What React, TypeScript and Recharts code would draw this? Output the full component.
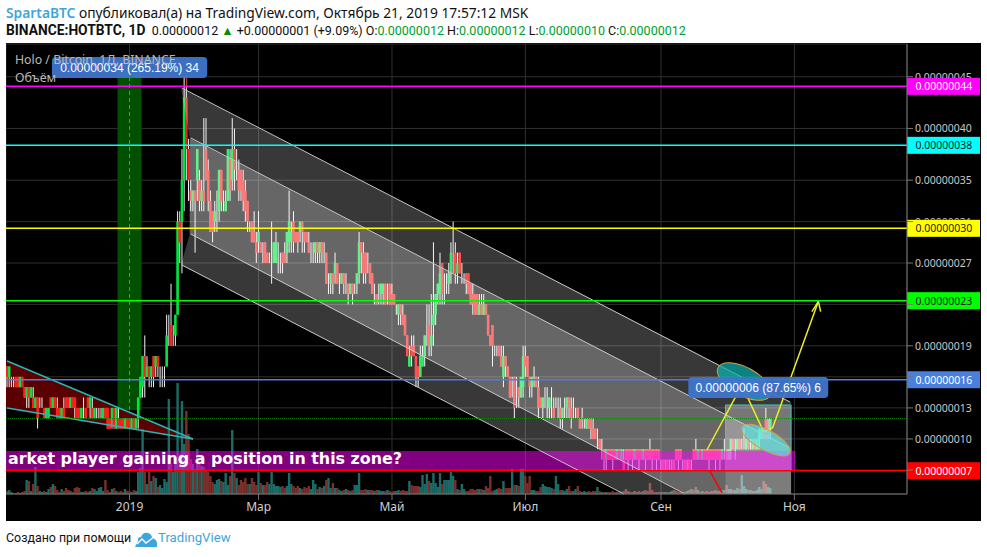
import { Bar, CartesianGrid, ComposedChart, ReferenceArea, ReferenceLine, XAxis, YAxis } from "recharts";

// prices are in satoshi (1e-8 BTC), day 0 is 1 Jan 2019
const firstDay = -56;
const lastSlot = 355;

const opens = [
  17, 16, 16, 16, 16, 16, 15, 16, 15, 14, 15, 14, 14, 13, 14, 13, 14, 13, 12, 12,
  14, 13, 14, 13, 13, 12, 13, 14, 14, 13, 14, 14, 13, 13, 12, 13, 13, 14, 13, 13,
  12, 13, 13, 13, 12, 13, 13, 12, 12, 13, 11, 12, 12, 12, 11, 12,
  12, 11, 12, 11, 12, 14, 15, 18, 16, 17, 16, 18, 17, 18, 17, 17, 17, 17, 20, 21,
  20, 20, 22, 31, 31, 35, 43, 38, 34, 33, 34, 35, 35, 33, 34, 38, 36, 33, 32, 31,
  32, 32, 36, 33, 32, 33, 37, 35, 38, 36, 36, 36, 35, 34, 33, 30, 31, 30, 29, 29,
  29, 28, 29, 28, 27, 28, 27, 27, 28, 27, 28, 28, 28, 29, 29, 31, 30, 30, 30, 31,
  30, 30, 29, 28, 28, 28, 29, 28, 29, 28, 28, 25, 25, 26, 26, 27, 25, 25, 26, 25,
  25, 24, 25, 24, 25, 26, 29, 28, 28, 27, 27, 26, 24, 24, 24, 24, 24, 25, 24, 25,
  24, 24, 23, 22, 23, 22, 22, 20, 17, 19, 19, 18, 17, 16, 17, 18, 20, 21, 19, 21,
  22, 24, 24, 27, 25, 25, 25, 26, 28, 28, 26, 28, 26, 26, 26, 26, 25, 24, 24, 24,
  22, 23, 22, 23, 22, 20, 21, 19, 19, 19, 18, 16, 18, 17, 16, 15, 16, 14, 15, 14,
  15, 18, 18, 16, 15, 16, 16, 15, 14, 13, 14, 14, 13, 14, 13, 13, 13, 13, 12, 13,
  13, 14, 13, 13, 13, 13, 12, 12, 12, 11, 12, 12, 11, 11, 10, 10, 9, 9, 8, 9,
  9, 9, 9, 8, 9, 8, 8, 9, 9, 9, 9, 8, 9, 9, 9, 8, 9, 9, 9, 9,
  9, 9, 9, 8, 8, 8, 8, 8, 8, 8, 9, 9, 9, 8, 8, 8, 8, 8, 9, 9,
  8, 9, 8, 9, 9, 9, 9, 9, 9, 9, 9, 8, 9, 9, 8, 9, 10, 9, 9, 10,
  9, 9, 9, 10, 9, 9, 10, 9, 10, 10, 11, 12, 11, 11,
];
const closes = [
  16, 17, 16, 16, 15, 15, 16, 15, 14, 15, 14, 15, 13, 14, 12, 13, 14, 12, 13, 13,
  13, 14, 13, 12, 12, 13, 12, 13, 13, 14, 13, 13, 12, 12, 13, 13, 12, 13, 14, 12,
  13, 13, 13, 13, 13, 12, 11, 11, 13, 11, 13, 11, 11, 11, 12, 11,
  11, 12, 11, 12, 14, 16, 18, 16, 17, 16, 17, 16, 18, 17, 17, 17, 17, 20, 20, 19,
  20, 22, 31, 29, 35, 43, 38, 35, 33, 34, 33, 38, 33, 34, 33, 35, 33, 30, 30, 32,
  32, 36, 33, 33, 33, 38, 34, 38, 36, 36, 34, 34, 33, 32, 31, 30, 29, 29, 28, 30,
  28, 28, 27, 27, 27, 28, 29, 29, 28, 27, 27, 27, 30, 31, 30, 29, 29, 29, 31, 30,
  29, 29, 28, 28, 28, 29, 28, 29, 28, 28, 25, 25, 26, 25, 27, 25, 25, 26, 25, 25,
  24, 25, 24, 24, 26, 29, 28, 26, 26, 27, 25, 24, 24, 23, 24, 25, 25, 23, 24, 23,
  23, 23, 23, 23, 22, 21, 20, 18, 18, 18, 18, 16, 16, 18, 18, 20, 20, 19, 20, 22,
  24, 25, 26, 24, 25, 25, 26, 28, 28, 26, 27, 26, 26, 26, 25, 24, 23, 23, 22, 22,
  23, 22, 23, 22, 20, 19, 19, 19, 19, 18, 17, 18, 17, 16, 14, 15, 13, 14, 14, 16,
  18, 17, 16, 15, 16, 16, 15, 13, 13, 14, 14, 14, 14, 14, 12, 13, 13, 12, 13, 13,
  14, 13, 12, 13, 13, 12, 11, 12, 12, 12, 11, 11, 10, 10, 10, 9, 9, 8, 9, 8,
  8, 8, 8, 9, 8, 9, 7, 8, 8, 8, 8, 9, 8, 8, 8, 9, 8, 8, 8, 8,
  8, 8, 8, 8, 7, 8, 7, 8, 8, 7, 8, 8, 8, 8, 7, 8, 7, 8, 8, 8,
  9, 8, 9, 8, 8, 8, 8, 8, 8, 8, 8, 9, 9, 8, 9, 10, 9, 9, 10, 9,
  9, 9, 10, 9, 9, 10, 9, 10, 11, 11, 10, 10, 11, 12,
];
const highs = [
  17, 17, 16, 16, 16, 16, 16, 16, 15, 15, 15, 15, 15, 14, 14, 14, 14, 13, 13, 13,
  14, 14, 14, 14, 13, 13, 14, 14, 14, 14, 14, 14, 13, 13, 13, 14, 13, 14, 14, 14,
  13, 13, 13, 13, 13, 13, 13, 12, 13, 13, 13, 13, 12, 12, 12, 12,
  12, 12, 12, 12, 14, 16, 18, 20, 18, 17, 17, 18, 18, 18, 17, 17, 17, 22, 22, 25,
  21, 22, 32, 32, 38, 45, 44, 39, 35, 34, 34, 38, 36, 35, 41, 41, 37, 34, 32, 33,
  34, 36, 36, 34, 34, 38, 38, 41, 40, 38, 37, 36, 36, 35, 33, 31, 31, 32, 30, 32,
  29, 29, 29, 28, 28, 31, 29, 30, 29, 28, 28, 29, 30, 34, 31, 32, 30, 30, 31, 31,
  30, 30, 30, 29, 29, 29, 29, 29, 29, 29, 28, 26, 26, 26, 28, 27, 26, 26, 26, 26,
  25, 25, 25, 25, 26, 30, 29, 29, 28, 28, 27, 26, 25, 24, 25, 25, 25, 25, 25, 25,
  25, 24, 23, 23, 23, 23, 22, 20, 19, 20, 20, 18, 17, 19, 19, 20, 23, 23, 24, 29,
  24, 25, 28, 27, 26, 26, 27, 29, 31, 29, 28, 28, 27, 26, 26, 26, 25, 25, 24, 24,
  24, 24, 24, 23, 22, 20, 21, 19, 19, 19, 19, 19, 18, 17, 16, 16, 16, 16, 15, 16,
  19, 19, 18, 16, 16, 17, 16, 16, 14, 14, 15, 15, 14, 15, 14, 14, 14, 14, 13, 14,
  14, 14, 14, 14, 13, 13, 12, 13, 12, 12, 12, 12, 12, 11, 11, 10, 10, 9, 9, 9,
  9, 9, 9, 9, 9, 9, 9, 9, 9, 9, 9, 9, 9, 9, 9, 9, 9, 9, 10, 9,
  9, 9, 9, 8, 8, 8, 8, 8, 8, 8, 9, 9, 9, 8, 8, 8, 8, 8, 9, 10,
  9, 9, 9, 9, 9, 9, 9, 9, 9, 9, 9, 9, 10, 9, 9, 10, 10, 10, 10, 10,
  10, 11, 10, 10, 10, 10, 10, 10, 11, 11, 11, 13, 12, 12,
];
const lows = [
  15, 15, 15, 15, 15, 15, 15, 15, 14, 13, 13, 14, 13, 13, 11, 13, 13, 12, 12, 12,
  13, 13, 13, 12, 12, 12, 12, 13, 13, 13, 13, 12, 12, 12, 12, 12, 12, 13, 12, 12,
  12, 12, 12, 12, 12, 12, 11, 11, 11, 11, 11, 11, 11, 11, 11, 11,
  11, 11, 11, 11, 11, 14, 14, 14, 16, 15, 15, 15, 16, 16, 15, 15, 15, 17, 19, 19,
  19, 19, 22, 27, 26, 32, 35, 33, 32, 32, 28, 33, 32, 32, 32, 35, 32, 30, 29, 30,
  30, 31, 32, 32, 32, 33, 33, 34, 34, 35, 33, 33, 32, 31, 30, 30, 29, 29, 27, 28,
  28, 27, 27, 27, 27, 25, 27, 27, 26, 26, 26, 27, 27, 28, 28, 28, 29, 28, 29, 28,
  28, 29, 28, 27, 27, 27, 27, 27, 27, 27, 25, 24, 24, 24, 25, 25, 24, 25, 24, 24,
  23, 24, 23, 24, 24, 25, 26, 25, 25, 26, 25, 24, 23, 23, 23, 23, 23, 23, 23, 23,
  23, 23, 22, 21, 21, 21, 20, 18, 17, 17, 18, 15, 15, 16, 17, 17, 19, 18, 18, 19,
  21, 23, 23, 23, 23, 24, 24, 25, 26, 25, 25, 26, 25, 25, 24, 24, 23, 22, 22, 22,
  22, 22, 22, 22, 20, 19, 17, 18, 18, 18, 17, 15, 16, 16, 14, 14, 12, 13, 13, 14,
  14, 16, 16, 14, 14, 15, 15, 12, 13, 12, 13, 12, 12, 12, 12, 13, 12, 11, 11, 12,
  12, 12, 11, 12, 12, 12, 11, 11, 11, 11, 11, 10, 10, 10, 9, 9, 8, 7, 7, 8,
  8, 7, 8, 8, 8, 8, 7, 8, 7, 8, 7, 8, 8, 7, 8, 8, 7, 8, 8, 7,
  8, 7, 8, 7, 7, 7, 7, 7, 7, 7, 8, 7, 8, 7, 7, 7, 7, 7, 8, 8,
  8, 8, 8, 8, 8, 7, 8, 8, 7, 8, 7, 8, 8, 8, 8, 8, 9, 8, 9, 9,
  9, 9, 9, 9, 9, 9, 9, 9, 9, 10, 10, 10, 10, 10,
];
const volumes = [
  3, 4, 2, 1, 1, 2, 1, 2, 3, 14, 13, 3, 10, 27, 8, 3, 2, 3, 2, 5,
  7, 10, 8, 4, 2, 5, 3, 6, 4, 3, 2, 6, 7, 6, 2, 2, 3, 2, 3, 6,
  5, 3, 6, 7, 3, 14, 4, 2, 5, 6, 3, 2, 3, 2, 5, 3,
  3, 2, 4, 3, 22, 26, 65, 22, 10, 22, 13, 18, 16, 7, 9, 6, 15, 12, 95, 30,
  22, 30, 111, 40, 93, 50, 83, 60, 35, 30, 25, 45, 37, 28, 27, 24, 22, 18, 12, 10,
  14, 15, 13, 12, 21, 9, 18, 64, 21, 16, 9, 14, 12, 16, 10, 10, 16, 12, 9, 22,
  11, 9, 9, 12, 10, 22, 10, 8, 8, 7, 8, 6, 8, 21, 10, 8, 6, 8, 6, 5,
  7, 6, 8, 5, 14, 10, 5, 7, 6, 8, 14, 16, 6, 11, 6, 6, 4, 3, 4, 5,
  4, 3, 4, 9, 9, 21, 4, 4, 5, 4, 4, 4, 3, 4, 4, 3, 3, 3, 4, 3,
  2, 3, 3, 4, 3, 4, 3, 3, 13, 9, 8, 8, 8, 7, 19, 10, 20, 13, 11, 21,
  11, 7, 21, 10, 14, 14, 14, 22, 18, 14, 5, 4, 10, 5, 3, 3, 5, 5, 4, 5,
  5, 5, 4, 8, 6, 18, 3, 4, 5, 6, 5, 13, 6, 6, 6, 25, 9, 9, 8, 25,
  25, 18, 11, 18, 4, 4, 3, 3, 7, 10, 8, 7, 7, 6, 5, 18, 10, 4, 4, 3,
  5, 8, 3, 3, 5, 8, 3, 2, 3, 2, 3, 2, 3, 3, 7, 3, 2, 2, 2, 2,
  2, 3, 2, 2, 3, 2, 3, 5, 3, 2, 2, 3, 2, 3, 2, 3, 4, 3, 11, 4,
  2, 2, 2, 2, 2, 2, 2, 2, 3, 4, 3, 2, 2, 2, 2, 3, 4, 5, 4, 7,
  4, 2, 3, 2, 3, 2, 3, 3, 4, 3, 3, 4, 4, 9, 5, 5, 4, 4, 6, 5,
  19, 8, 5, 4, 4, 3, 3, 4, 7, 5, 13, 10, 7, 6,
];

const priceTicks = [45, 40, 35, 31, 27, 23, 19, 16, 13, 10, 7];
const monthDays = [0, 59, 120, 181, 243, 304];
const monthLabels = ["2019", "Мар", "Май", "Июл", "Сен", "Ноя"];

const levelPrices = [44.07, 38.37, 30.35, 23.36, 15.72, 6.93];
const levelColors = ["#ff00ff", "#00ffff", "#ffff00", "#00ff00", "#4a80dc", "#ff0000"];
const levelText = ["#ffffff", "#222222", "#222222", "#222222", "#ffffff", "#ffffff"];

// axis labels the level tags sit on: gone, or only a sliver above the tag
const coveredTicks = [23, 16, 7];
const partlyCovered: Record<number, number> = { 45: 1.2, 31: -1.9 };

const channelTop = [[24, 43.9], [302, 13.57], [302, 9.13], [28, 39.08]];
const channelMiddle = [[28, 39.08], [302, 9.13], [302, 4.68], [254, 4.68], [28, 29.8]];
const channelBottom = [[28, 29.8], [254, 4.68], [226, 4.68], [24, 26.8]];
const channelLines = [
  [24, 43.9, 302, 13.57],
  [28, 39.08, 302, 9.13],
  [28, 29.8, 254, 4.68],
  [24, 26.8, 226, 4.68],
];
const wedge = [[-56, 17.53], [29, 10], [-56, 13]];
const yellowPath = [
  [264, 8.93, 280, 15.2],
  [280, 15.2, 290, 10.67],
  [290, 10.67, 294, 11.06],
  [294, 11.06, 315, 23.3],
  [312, 22.3, 315, 23.3],
  [316, 22.3, 315, 23.3],
];

const FONT = "'Noto Sans', sans-serif";
const HEAD = "Roboto, sans-serif";

const rows = Array.from({ length: lastSlot - firstDay + 1 }, (_, i) => {
  if (i >= closes.length) return { day: firstDay + i, wick: null, body: null, volume: null, up: false };
  const body = opens[i] === closes[i] ? null : [Math.min(opens[i], closes[i]), Math.max(opens[i], closes[i])];
  return { day: firstDay + i, wick: [lows[i], highs[i]], body, volume: volumes[i], up: closes[i] >= opens[i] };
});

const Wick = (p: any) => <rect x={p.x + p.width / 2 - 0.5} y={p.y} width={1} height={p.height} fill="#f2f2f2" />;
const CandleBody = (p: any) => <rect x={p.x - 0.3} y={p.y} width={p.width + 0.6} height={p.height} fill={p.payload.up ? "#00e640" : "#ff1f1f"} />;
const VolumeBar = (p: any) => <rect x={p.x - 0.2} y={p.y} width={p.width + 0.4} height={p.height} fill={p.payload.up ? "#1c6b66" : "#7a2f2b"} />;

const PriceTick = (p: any) => {
  const value = p.payload.value;
  if (coveredTicks.includes(value)) return <g />;
  const label = (value / 1e8).toFixed(8);
  const common = { fontSize: 10.5, fontFamily: FONT, fill: "#c8c8c8" };
  const clip = partlyCovered[value];
  if (clip === undefined) return <text x={p.x} y={p.y + 4} {...common}>{label}</text>;
  return (
    <svg x={p.x} y={p.y - 12} width={66} height={12 + clip}>
      <text x={0} y={16} {...common}>{label}</text>
    </svg>
  );
};

function polygonArea(key: string, points: number[][], fill: string, zIndex: number) {
  const days = points.map((pt) => pt[0]);
  const prices = points.map((pt) => pt[1]);
  const d0 = Math.min(...days);
  const d1 = Math.max(...days);
  const p0 = Math.min(...prices);
  const p1 = Math.max(...prices);
  const shape = (s: any) => {
    const pts = points.map((pt) => `${s.x + ((pt[0] - d0) / (d1 - d0)) * s.width},${s.y + ((p1 - pt[1]) / (p1 - p0)) * s.height}`);
    return <polygon points={pts.join(" ")} fill={fill} />;
  };
  return <ReferenceArea key={key} x1={d0} x2={d1} y1={p0} y2={p1} ifOverflow="visible" shape={shape} zIndex={zIndex} />;
}

function ellipseArea(key: string, x1: number, x2: number, y1: number, y2: number, fill: string) {
  const shape = (s: any) => {
    const cx = s.x + s.width / 2;
    const cy = s.y + s.height / 2;
    return <ellipse cx={cx} cy={cy} rx={s.width / 2} ry={s.height / 2} fill={fill} stroke="#d0a040" transform={`rotate(29 ${cx} ${cy})`} />;
  };
  return <ReferenceArea key={key} x1={x1} x2={x2} y1={y1} y2={y2} ifOverflow="visible" shape={shape} zIndex={450} />;
}

function bubbleArea(key: string, x1: number, x2: number, y1: number, y2: number, text: string) {
  const shape = (s: any) => (
    <g>
      <rect x={s.x} y={s.y} width={s.width} height={s.height} rx={4} fill="#3f75cc" fillOpacity={0.95} />
      <text x={s.x + s.width / 2} y={s.y + s.height / 2 + 4.5} textAnchor="middle" fontSize={12} fontFamily="'Liberation Sans', sans-serif" fill="#ffffff">{text}</text>
    </g>
  );
  return <ReferenceArea key={key} x1={x1} x2={x2} y1={y1} y2={y2} ifOverflow="visible" shape={shape} zIndex={480} />;
}

const levelTag = (index: number) => (props: any) => {
  const v = props.viewBox;
  const right = v.x + v.width;
  return (
    <g>
      <rect x={right} y={v.y - 8.5} width={73} height={17} fill={levelColors[index]} />
      <text x={right + 8.5} y={v.y + 4} fontSize={10.5} fontFamily={FONT} fill={levelText[index]}>
        {(Math.round(levelPrices[index]) / 1e8).toFixed(8)}
      </text>
    </g>
  );
};

const zoneShape = (s: any) => (
  <g>
    <rect x={s.x} y={s.y} width={s.width} height={s.height} fill="#ff00ff" fillOpacity={0.5} />
    <text x={s.x + 2} y={s.y + 13.5} fontSize={15.9} fontWeight="bold" fontFamily="'DejaVu Sans', sans-serif" fill="#ffffff">
      arket player gaining a position in this zone?
    </text>
  </g>
);

function Chart() {
  return (
    <ComposedChart width={975} height={478} data={rows} margin={{ top: 1, right: 1, bottom: 0, left: 0 }} barSize={2} barGap={-2} style={{ background: "#000" }}>
      <CartesianGrid stroke="#303030" />
      <XAxis dataKey="day" type="category" ticks={monthDays} interval={0} height={27} stroke="#777" tickLine={{ stroke: "#777" }} tick={{ fill: "#d0d0d0", fontSize: 12, fontFamily: FONT }} tickFormatter={(d) => monthLabels[monthDays.indexOf(Number(d))]} />
      <YAxis orientation="right" width={73} domain={[4.68, 48.16]} allowDataOverflow ticks={priceTicks} interval={0} stroke="#777" tickLine={{ stroke: "#777" }} tick={PriceTick} />
      <YAxis yAxisId="vol" hide domain={[0, 450]} allowDataOverflow />

      <ReferenceArea x1={-5} x2={5} y1={12.8} y2={45.65} ifOverflow="visible" fill="#005000" fillOpacity={1} />
      {polygonArea("wedge", wedge, "#5a0000", 100)}

      <Bar yAxisId="vol" dataKey="volume" isAnimationActive={false} shape={VolumeBar} />
      <Bar dataKey="wick" isAnimationActive={false} shape={Wick} />
      <Bar dataKey="body" isAnimationActive={false} shape={CandleBody} />

      <ReferenceLine segment={[{ x: 0, y: 12.8 }, { x: 0, y: 45.65 }]} stroke="#2db82d" strokeDasharray="4 3" ifOverflow="visible" />
      {polygonArea("channel-top", channelTop, "rgba(255,255,255,0.22)", 350)}
      {polygonArea("channel-middle", channelMiddle, "rgba(255,255,255,0.4)", 350)}
      {polygonArea("channel-bottom", channelBottom, "rgba(255,255,255,0.22)", 350)}
      {channelLines.map((l, i) => (
        <ReferenceLine key={`channel-line-${i}`} segment={[{ x: l[0], y: l[1] }, { x: l[2], y: l[3] }]} stroke="#c8c8c8" ifOverflow="visible" />
      ))}
      <ReferenceLine segment={[{ x: -56, y: 17.53 }, { x: 29, y: 10 }]} stroke="#2bb5b5" strokeWidth={1.5} ifOverflow="visible" />
      <ReferenceLine segment={[{ x: -56, y: 13 }, { x: 29, y: 10 }]} stroke="#2bb5b5" strokeWidth={1.5} ifOverflow="visible" />

      <ReferenceArea x1={273} x2={302} y1={4.68} y2={13.28} ifOverflow="visible" fill="#ffffff" fillOpacity={0.15} zIndex={355} />
      <ReferenceArea x1={273} x2={302} y1={7} y2={13.28} ifOverflow="visible" fill="#ffffff" fillOpacity={0.2} stroke="#3cc8c8" zIndex={355} />
      <ReferenceArea x1={firstDay} x2={304} y1={7} y2={8.84} ifOverflow="visible" shape={zoneShape} zIndex={360} />

      <ReferenceLine y={11.96} stroke="#0a8a0a" strokeDasharray="1 1" />
      {levelPrices.map((p, i) => (
        <ReferenceLine key={`level-${i}`} y={p} stroke={levelColors[i]} strokeWidth={1.5} label={{ content: levelTag(i), zIndex: 3000 } as any} />
      ))}

      {ellipseArea("ellipse-top", 268, 294, 14.2, 16.9, "rgba(15,175,175,0.75)")}
      {ellipseArea("ellipse-low", 279, 303, 8.93, 10.86, "rgba(90,230,230,0.65)")}
      {yellowPath.map((l, i) => (
        <ReferenceLine key={`yellow-${i}`} segment={[{ x: l[0], y: l[1] }, { x: l[2], y: l[3] }]} stroke="#eeee22" strokeWidth={1.5} ifOverflow="visible" />
      ))}
      <ReferenceLine segment={[{ x: 265, y: 7 }, { x: 271, y: 4.78 }]} stroke="#ff0000" strokeWidth={1.5} ifOverflow="visible" />
      <ReferenceLine segment={[{ x: 26, y: 44 }, { x: 26, y: 45 }]} stroke="#d84040" ifOverflow="visible" />

      {bubbleArea("bubble-up", -35, 35, 44.87, 46.9, "0.00000034 (265.19%) 34")}
      {bubbleArea("bubble-down", 256, 319, 13.96, 15.99, "0.00000006 (87.65%) 6")}
    </ComposedChart>
  );
}

function Logo() {
  return (
    <svg width={24} height={15} viewBox="0 0 24 15" style={{ position: "absolute", left: 134, top: 532 }}>
      <path d="M1 15 L4 9 Q3 5 7 5 Q9 0 14 1 Q18 2 18 6 Q23 7 23 12 L23 15 Z" fill="#3ea6dc" />
      <path d="M3 12 L8 7 L12 11 L20 5" fill="none" stroke="#ffffff" strokeWidth={1.4} />
    </svg>
  );
}

export default function App() {
  const green = { color: "#00a030" };
  return (
    <div style={{ position: "absolute", left: 0, top: 0, width: 987, height: 557, background: "#fff", overflow: "hidden", fontFamily: FONT, color: "#111" }}>
      <div style={{ position: "absolute", left: 6, top: 3, fontSize: 13.8, whiteSpace: "nowrap" }}>
        <span style={{ color: "#3ea6dc", fontWeight: 600 }}>SpartaBTC</span> опубликовал(а) на TradingView.com, Октябрь 21, 2019 17:57:12 MSK
      </div>
      <div style={{ position: "absolute", left: 6, top: 22, fontSize: 12.5, whiteSpace: "nowrap", fontFamily: HEAD }}>
        <b style={{ fontSize: 13.8 }}>BINANCE:HOTBTC, 1D</b>&nbsp; 0.00000012 <span style={{ color: "#009000" }}>▲</span> +0.00000001 (+9.09%) O:<span style={green}>0.00000012</span> H:<span style={green}>0.00000012</span> L:<span style={green}>0.00000010</span> C:<span style={green}>0.00000012</span>
      </div>
      <div style={{ position: "absolute", left: 6, top: 43, border: "0", width: 975, height: 478, outline: "1px solid #777", outlineOffset: -1 }}>
        <Chart />
      </div>
      <div style={{ position: "absolute", left: 15, top: 51, fontSize: 12.3, color: "#b8b8b8", whiteSpace: "nowrap" }}>Holo / Bitcoin, 1Д, BINANCE</div>
      <div style={{ position: "absolute", left: 15, top: 69, fontSize: 12.5, color: "#b8b8b8" }}>Объём</div>
      <div style={{ position: "absolute", left: 6, top: 530, fontSize: 12.4, whiteSpace: "nowrap", fontFamily: HEAD }}>Создано при помощи</div>
      <Logo />
      <div style={{ position: "absolute", left: 158, top: 530, fontSize: 13.2, color: "#3ea6dc", fontFamily: HEAD }}>TradingView</div>
    </div>
  );
}
